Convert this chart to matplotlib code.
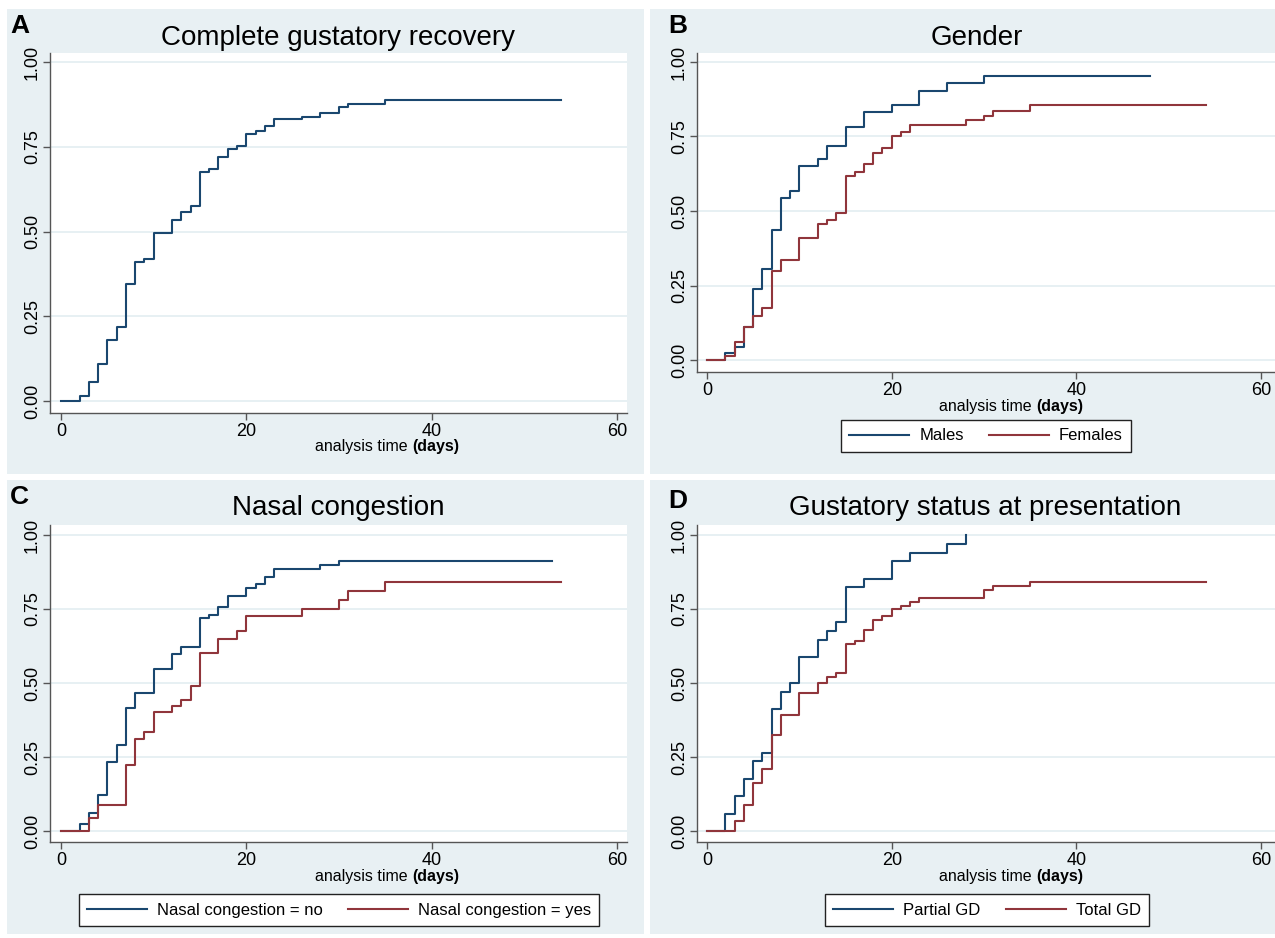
import matplotlib
matplotlib.use("Agg")
import matplotlib.pyplot as plt
from matplotlib.patches import Rectangle

plt.rcParams['font.family'] = ['Liberation Sans Narrow', 'Liberation Sans', 'DejaVu Sans']

# Kaplan-Meier style cumulative recovery curves (time in days, proportion recovered)
a_time = [0, 2, 3, 4, 5, 6, 7, 8, 9, 10, 12, 13, 14, 15, 16, 17, 18, 19, 20, 21, 22, 23, 26, 28, 30, 31, 35, 54]
a_prop = [0, 0.016, 0.055, 0.11, 0.18, 0.22, 0.345, 0.41, 0.418, 0.497, 0.535, 0.559, 0.576, 0.676, 0.685,
          0.719, 0.744, 0.753, 0.787, 0.796, 0.813, 0.831, 0.839, 0.849, 0.868, 0.878, 0.888, 0.888]

males_time = [0, 2, 3, 4, 5, 6, 7, 8, 9, 10, 12, 13, 15, 17, 20, 23, 26, 30, 48]
males_prop = [0, 0.0225, 0.045, 0.11, 0.24, 0.306, 0.435, 0.543, 0.566, 0.652, 0.675, 0.718, 0.783, 0.831,
              0.856, 0.903, 0.929, 0.953, 0.953]
females_time = [0, 2, 3, 4, 5, 6, 7, 8, 10, 12, 13, 14, 15, 16, 17, 18, 19, 20, 21, 22, 28, 30, 31, 35, 54]
females_prop = [0, 0.0135, 0.062, 0.112, 0.148, 0.174, 0.298, 0.334, 0.408, 0.458, 0.469, 0.494, 0.616, 0.63,
                0.657, 0.696, 0.711, 0.75, 0.764, 0.79, 0.805, 0.82, 0.836, 0.855, 0.855]

nasal_no_time = [0, 2, 3, 4, 5, 6, 7, 8, 10, 12, 13, 15, 16, 17, 18, 20, 21, 22, 23, 28, 30, 53]
nasal_no_prop = [0, 0.025, 0.062, 0.121, 0.232, 0.292, 0.415, 0.465, 0.549, 0.597, 0.623, 0.719, 0.731,
                 0.757, 0.795, 0.821, 0.835, 0.859, 0.884, 0.898, 0.912, 0.912]
nasal_yes_time = [0, 3, 4, 7, 8, 9, 10, 12, 13, 14, 15, 17, 19, 20, 26, 30, 31, 35, 54]
nasal_yes_prop = [0, 0.045, 0.089, 0.223, 0.312, 0.335, 0.402, 0.423, 0.444, 0.489, 0.601, 0.65, 0.675,
                  0.726, 0.751, 0.78, 0.812, 0.843, 0.843]

partial_time = [0, 2, 3, 4, 5, 6, 7, 8, 9, 10, 12, 13, 14, 15, 17, 20, 22, 26, 28]
partial_prop = [0, 0.059, 0.118, 0.176, 0.235, 0.265, 0.412, 0.471, 0.5, 0.588, 0.647, 0.676, 0.706, 0.824,
                0.853, 0.912, 0.941, 0.971, 1.0]
total_time = [0, 3, 4, 5, 6, 7, 8, 10, 12, 13, 14, 15, 16, 17, 18, 19, 20, 21, 22, 23, 30, 31, 35, 54]
total_prop = [0, 0.034, 0.088, 0.163, 0.208, 0.326, 0.391, 0.468, 0.5, 0.522, 0.533, 0.632, 0.641, 0.678,
              0.714, 0.726, 0.75, 0.762, 0.775, 0.787, 0.816, 0.829, 0.843, 0.843]

x_ticks = [0, 20, 40, 60]
y_ticks = [0, 0.25, 0.5, 0.75, 1.0]
y_ticklabels = ["0.00", "0.25", "0.50", "0.75", "1.00"]

NAVY = "#1a476f"
MAROON = "#90353b"
PANEL_BG = "#e8f0f3"
GRID = "#e3edf1"
AXCOL = "#555555"

W, H = 1275, 938
fig = plt.figure(figsize=(W / 100, H / 100), dpi=100)
fig.patch.set_facecolor("white")


def px_rect(x0, y0, x1, y1):
    return [x0 / W, 1 - y1 / H, (x1 - x0) / W, (y1 - y0) / H]


# panel backgrounds
for (x0, y0, x1, y1) in [(7, 9, 644, 474), (650, 9, 1275, 474), (7, 480, 644, 934), (650, 480, 1275, 934)]:
    fig.patches.append(Rectangle((x0 / W, 1 - y1 / H), (x1 - x0) / W, (y1 - y0) / H,
                                 transform=fig.transFigure, facecolor=PANEL_BG, edgecolor="none", zorder=-5))


def make_axes(box, xlim, ylim):
    ax = fig.add_axes(px_rect(*box))
    ax.set_zorder(2)
    ax.set_facecolor("white")
    ax.set_xlim(*xlim)
    ax.set_ylim(*ylim)
    ax.set_xticks(x_ticks)
    ax.set_yticks(y_ticks)
    ax.set_yticklabels(y_ticklabels, rotation=90, va="center")
    ax.tick_params(axis="both", colors=AXCOL, labelcolor="black", labelsize=13, length=5, width=1)
    ax.tick_params(axis="y", pad=1.5)
    ax.tick_params(axis="x", pad=2.5)
    ax.grid(axis="y", color=GRID, lw=1.2)
    ax.set_axisbelow(True)
    for s in ["top", "right"]:
        ax.spines[s].set_visible(False)
    for s in ["left", "bottom"]:
        ax.spines[s].set_color(AXCOL)
        ax.spines[s].set_linewidth(1)
    return ax


def xlabel(xsplit, y):
    fig.text(xsplit / W, 1 - y / H, "analysis time ", ha="right", va="center", fontsize=11.5)
    fig.text(xsplit / W, 1 - y / H, "(days)", ha="left", va="center", fontsize=11.5, fontweight="bold")


def titles(letter, lx, ly, title, tx, ty):
    fig.text(lx / W, 1 - ly / H, letter, ha="left", va="center", fontsize=19, fontweight="bold",
             family=['Liberation Sans', 'DejaVu Sans'])
    fig.text(tx / W, 1 - ty / H, title, ha="center", va="center", fontsize=20)


def legend(ax, cx, cy_frac):
    leg = ax.legend(loc="center", bbox_to_anchor=(cx, cy_frac), ncol=2,
                    fontsize=12, frameon=True, fancybox=False, handlelength=3.6, columnspacing=1.5,
                    borderpad=0.5, handletextpad=0.6, borderaxespad=0)
    fr = leg.get_frame()
    fr.set_edgecolor("#222222")
    fr.set_linewidth(1)
    fr.set_facecolor("white")
    fr.set_alpha(1)
    return leg


# A
axA = make_axes((50, 53, 627, 413), (-1.19, 61.1), (-0.035, 1.027))
axA.step(a_time, a_prop, where="post", color=NAVY, lw=1.5)
titles("A", 10, 26, "Complete gustatory recovery", 338, 38)
xlabel(412, 446)

# B
axB = make_axes((697, 53, 1275, 372), (-1.08, 61.5), (-0.04, 1.03))
axB.step(males_time, males_prop, where="post", color=NAVY, lw=1.5, label="Males")
axB.step(females_time, females_prop, where="post", color=MAROON, lw=1.5, label="Females")
titles("B", 668, 26, "Gender", 977, 38)
xlabel(1036, 406)
legend(axB, (986 - 697) / 578, (372 - 436) / 319)

# C
axC = make_axes((50, 525, 627, 842), (-1.19, 61.1), (-0.037, 1.034))
axC.step(nasal_no_time, nasal_no_prop, where="post", color=NAVY, lw=1.5, label="Nasal congestion = no")
axC.step(nasal_yes_time, nasal_yes_prop, where="post", color=MAROON, lw=1.5, label="Nasal congestion = yes")
titles("C", 10, 497, "Nasal congestion", 338, 508)
xlabel(412, 876)
legend(axC, (339 - 50) / 577, (842 - 910) / 317)

# D
axD = make_axes((697, 525, 1275, 842), (-1.08, 61.5), (-0.037, 1.034))
axD.step(partial_time, partial_prop, where="post", color=NAVY, lw=1.5, label="Partial GD")
axD.step(total_time, total_prop, where="post", color=MAROON, lw=1.5, label="Total GD")
titles("D", 668, 501, "Gustatory status at presentation", 985, 508)
xlabel(1036, 876)
legend(axD, (987 - 697) / 578, (842 - 910) / 317)

fig.savefig("out.png", dpi=100, facecolor=fig.get_facecolor())
